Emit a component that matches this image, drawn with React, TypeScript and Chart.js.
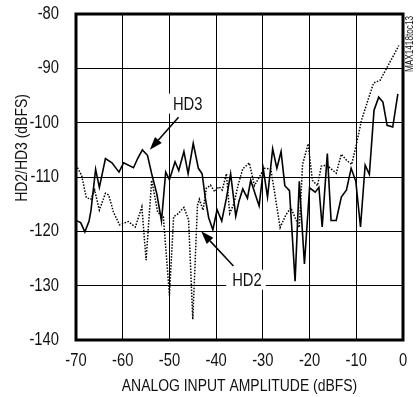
import { useEffect, useRef } from "react";
import { Chart, registerables } from "chart.js";

Chart.register(...registerables);

// Third-harmonic distortion (solid trace)
const hd3X = [-70, -69, -68.1, -67.2, -66.8, -65.8, -65, -63.7, -62.3, -60.8, -59.8, -57.7, -56.8, -55.8, -54.7, -53.8, -52.7, -51.7, -50.8, -50, -48.8, -48, -46.9, -46, -44.9, -43.8, -43, -42.3, -41.6, -40.7, -39.8, -38.8, -37.8, -36.9, -35.8, -35.1, -34.3, -33.3, -32.6, -31.7, -30.8, -29.9, -29, -27.9, -27, -26.1, -25.3, -24.3, -23.1, -22.2, -21.1, -20, -18.8, -18, -17.3, -16.2, -15.4, -14.3, -13.2, -12.1, -11.1, -10.1, -9.1, -8.1, -7.2, -6.2, -5.2, -4.3, -3.4, -2.2, -1.1];
const hd3Y = [-118, -118.4, -120.1, -118.1, -116.2, -108.6, -111.9, -106.6, -107.4, -109.1, -107.4, -108.3, -106.6, -105, -106, -109.4, -113.1, -118.1, -109.1, -110.5, -107.2, -108.8, -105.3, -109.4, -103.8, -108.4, -109.4, -114, -117.5, -119.7, -116, -118.1, -113.9, -109.4, -117.2, -114.4, -112.2, -113.9, -110.6, -113, -115.3, -108.6, -113.7, -104.8, -108.4, -105.3, -111.6, -112.5, -129.2, -110.8, -126, -112, -112.8, -111.9, -119.2, -105.7, -118, -118, -113.7, -112.4, -108.4, -110.8, -119.2, -107.8, -109.5, -97.7, -95.3, -96.2, -100.5, -100.8, -94.7];

// Second-harmonic distortion (dotted trace)
const hd2X = [-70, -68.8, -67.8, -66.8, -66, -65, -63.7, -63, -62, -60.7, -59.8, -58.8, -57.3, -55.9, -55, -53.8, -52.5, -51.3, -50, -49.1, -48.2, -46.9, -45.9, -45, -44, -43.6, -42.8, -42.1, -41.2, -40.3, -39.4, -38.7, -37.8, -37.1, -36.2, -35.3, -34.3, -32.9, -31.8, -29.7, -28.3, -26.3, -25.1, -24, -22.2, -21.5, -20.3, -19.4, -18.3, -17.5, -16.3, -15.5, -14.3, -13.2, -12.1, -11, -10, -8.9, -7.4, -6.3, -4.9, -3.4, -2, -0.9];
const hd2Y = [-107.8, -109.7, -113.8, -114.1, -112.4, -116.1, -113, -113.3, -116.4, -118.8, -118.5, -118.2, -119.2, -115.5, -125.3, -110.6, -116.5, -117.3, -131.8, -117.3, -116.8, -115.6, -117.9, -136.2, -115.2, -114.1, -116.1, -112.1, -111.5, -112.7, -111.8, -112.4, -109.4, -116.7, -114.9, -111.5, -108.5, -107.4, -111.6, -108.4, -108.5, -119.3, -117, -115.7, -119.3, -107.7, -103.9, -110.6, -111.6, -108, -107.8, -108.4, -109.3, -105.8, -106.9, -107.7, -104.1, -99.6, -95.6, -92.7, -92.2, -89.8, -87.6, -85.8];

const xTicks = [-70, -60, -50, -40, -30, -20, -10, 0];
const yTicks = [-140, -130, -120, -110, -100, -90, -80];

// Callout labels and their arrows, in data units
const hd3Label = { text: "HD3", x: -46.1, y: -96.5 };
const hd3Arrow = { fromX: -48.05, fromY: -99.0, toX: -54.2, toY: -105.0 };
const hd2Label = { text: "HD2", x: -33.4, y: -128.9 };
const hd2Arrow = { fromX: -36.3, fromY: -126.4, toX: -43.2, toY: -120.0 };

const xTitle = "ANALOG INPUT AMPLITUDE (dBFS)";
const yTitle = "HD2/HD3 (dBFS)";
const figureTag = "MAX1418toc13";

const FONT = "'Liberation Sans', Arial, sans-serif";
const INK = "#111";
// condensed look: squeeze glyphs horizontally
const SQUEEZE = 0.82;

function squeezedText(
  ctx: CanvasRenderingContext2D,
  text: string,
  x: number,
  y: number,
  size: number,
  align: CanvasTextAlign,
  rotate = 0
) {
  ctx.save();
  ctx.translate(x, y);
  if (rotate) ctx.rotate(rotate);
  ctx.scale(SQUEEZE, 1);
  ctx.font = `${size}px ${FONT}`;
  ctx.textAlign = align;
  ctx.textBaseline = "middle";
  ctx.fillText(text, 0, 0);
  ctx.restore();
}

const decorations = {
  id: "decorations",
  afterDatasetsDraw(chart: any) {
    const { ctx, chartArea, scales } = chart;
    const sx = scales.x;
    const sy = scales.y;
    ctx.save();

    // callout text on a white patch
    for (const lab of [hd3Label, hd2Label]) {
      const px = sx.getPixelForValue(lab.x);
      const py = sy.getPixelForValue(lab.y);
      ctx.font = `18px ${FONT}`;
      const w = ctx.measureText(lab.text).width * SQUEEZE;
      ctx.fillStyle = "#fff";
      ctx.fillRect(px - w / 2 - 6, py - 10, w + 10, 20);
      ctx.fillStyle = INK;
      squeezedText(ctx, lab.text, px, py + 1, 18, "center");
    }

    // arrows
    ctx.strokeStyle = "#000";
    ctx.fillStyle = "#000";
    ctx.lineWidth = 1.5;
    for (const a of [hd3Arrow, hd2Arrow]) {
      const x0 = sx.getPixelForValue(a.fromX);
      const y0 = sy.getPixelForValue(a.fromY);
      const x1 = sx.getPixelForValue(a.toX);
      const y1 = sy.getPixelForValue(a.toY);
      const ang = Math.atan2(y1 - y0, x1 - x0);
      const head = 13;
      const half = 4.5;
      const bx = x1 - head * Math.cos(ang);
      const by = y1 - head * Math.sin(ang);
      ctx.beginPath();
      ctx.moveTo(x0, y0);
      ctx.lineTo(bx, by);
      ctx.stroke();
      ctx.beginPath();
      ctx.moveTo(x1, y1);
      ctx.lineTo(bx + half * Math.sin(ang), by - half * Math.cos(ang));
      ctx.lineTo(bx - half * Math.sin(ang), by + half * Math.cos(ang));
      ctx.closePath();
      ctx.fill();
    }

    // heavy frame around the plot
    ctx.lineWidth = 3;
    ctx.strokeStyle = "#000";
    ctx.strokeRect(
      chartArea.left,
      chartArea.top,
      chartArea.right - chartArea.left,
      chartArea.bottom - chartArea.top
    );
    ctx.restore();
  },
  afterDraw(chart: any) {
    const { ctx, chartArea, scales } = chart;
    ctx.save();
    ctx.fillStyle = INK;

    // tick labels, placed through the scales
    for (const t of scales.x.ticks) {
      squeezedText(ctx, String(t.value), scales.x.getPixelForValue(t.value), chartArea.bottom + 21, 18, "center");
    }
    for (const t of scales.y.ticks) {
      squeezedText(ctx, String(t.value), chartArea.left - 17, scales.y.getPixelForValue(t.value), 18, "right");
    }

    // axis titles
    squeezedText(ctx, xTitle, (chartArea.left + chartArea.right) / 2, 386, 17, "center");
    squeezedText(ctx, yTitle, 22, 148, 17, "center", -Math.PI / 2);

    // figure tag along the right edge
    squeezedText(ctx, figureTag, chartArea.right + 7, 44, 10, "center", -Math.PI / 2);
    ctx.restore();
  },
};

export default function App() {
  const canvasRef = useRef<HTMLCanvasElement | null>(null);

  useEffect(() => {
    document.body.style.margin = "0";
    const canvas = canvasRef.current;
    if (!canvas) return;

    const chart = new Chart(canvas, {
      type: "line",
      data: {
        datasets: [
          {
            label: "HD3",
            data: hd3X.map((x, i) => ({ x, y: hd3Y[i] })),
            borderColor: "#000",
            borderWidth: 1.6,
            pointRadius: 0,
            tension: 0,
          },
          {
            label: "HD2",
            data: hd2X.map((x, i) => ({ x, y: hd2Y[i] })),
            borderColor: "#000",
            borderWidth: 1.5,
            borderDash: [1.5, 1.5],
            pointRadius: 0,
            tension: 0,
          },
        ],
      },
      options: {
        responsive: true,
        maintainAspectRatio: false,
        animation: false,
        layout: { padding: { top: 14, right: 13, left: 0, bottom: 0 } },
        plugins: {
          legend: { display: false },
          tooltip: { enabled: false },
        },
        scales: {
          x: {
            type: "linear",
            min: xTicks[0],
            max: xTicks[xTicks.length - 1],
            afterBuildTicks: (scale: any) => {
              scale.ticks = xTicks.map((v) => ({ value: v }));
            },
            afterFit: (scale: any) => {
              scale.height = 57;
            },
            grid: { color: "#000", lineWidth: 1, drawTicks: false },
            border: { display: false },
            ticks: { display: false },
          },
          y: {
            type: "linear",
            min: yTicks[0],
            max: yTicks[yTicks.length - 1],
            afterBuildTicks: (scale: any) => {
              scale.ticks = yTicks.map((v) => ({ value: v }));
            },
            afterFit: (scale: any) => {
              scale.width = 76;
            },
            grid: { color: "#000", lineWidth: 1, drawTicks: false },
            border: { display: false },
            ticks: { display: false },
          },
        },
      },
      plugins: [decorations],
    });

    return () => chart.destroy();
  }, []);

  return (
    <div style={{ position: "relative", width: 416, height: 397, background: "#fff" }}>
      <canvas ref={canvasRef} />
    </div>
  );
}
